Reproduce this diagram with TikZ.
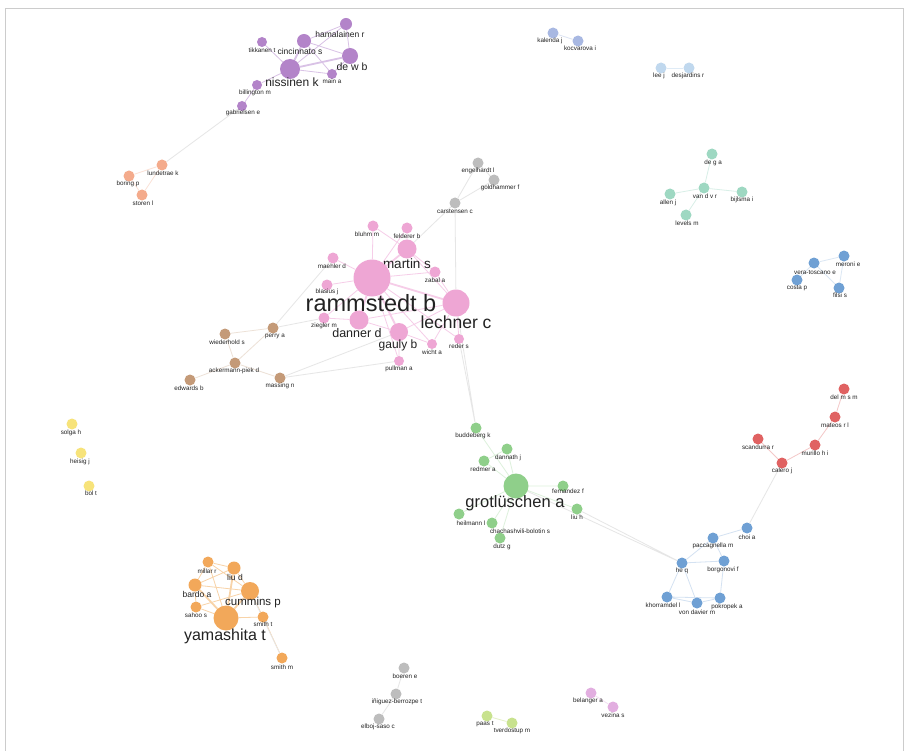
\documentclass[tikz,border=0pt]{standalone}
\usepackage{fontspec}
\setmainfont{Liberation Sans}
\usetikzlibrary{backgrounds}
\definecolor{cpur}{HTML}{B384C9}
\definecolor{epur}{HTML}{D9C2E6}
\definecolor{csal}{HTML}{F4AB8C}
\definecolor{cpink}{HTML}{EEA6D4}
\definecolor{epink}{HTML}{F6CDE8}
\definecolor{cbrown}{HTML}{C49A78}
\definecolor{cgray}{HTML}{BDBDBD}
\definecolor{cgreen}{HTML}{8FCF8A}
\definecolor{cblue}{HTML}{6FA0D4}
\definecolor{cred}{HTML}{E06262}
\definecolor{corange}{HTML}{F2A85A}
\definecolor{eorange}{HTML}{F8D3A8}
\definecolor{cteal}{HTML}{9ED8C2}
\definecolor{ckal}{HTML}{A8B8E2}
\definecolor{clee}{HTML}{C0D8EE}
\definecolor{cyel}{HTML}{F7E37A}
\definecolor{clg}{HTML}{C8E28E}
\definecolor{cbel}{HTML}{E2AEE0}
\definecolor{txt}{HTML}{222222}
\definecolor{faint}{HTML}{E6E6E6}
\tikzset{
  nd/.style={circle, inner sep=0pt, draw=none},
  ls/.style={inner sep=0pt, text=txt, font=\fontsize{6.3}{7}\selectfont},
  lm/.style={inner sep=0pt, text=txt, font=\fontsize{8.5}{9}\selectfont},
  lb/.style={inner sep=0pt, text=txt, font=\fontsize{#1}{#1}\selectfont},
  ed/.style={draw=#1, line width=0.8pt},
  edt/.style={draw=#1, line width=1.8pt},
}
\newcommand\gn[7]{\node[nd, fill=#1, minimum size=#4pt] (#2) at (#3) {}; \node[#6] (#2-l) at (#5) {#7};}
\begin{document}
\begin{tikzpicture}[x=1pt,y=-1pt]
\useasboundingbox (0,0) rectangle (909,751);
% purple
\gn{cpur}{hamalainen}{346,24}{12}{340,34}{lm}{hamalainen r}
\gn{cpur}{cincinnato}{304,41}{14}{300,51}{lm}{cincinnato s}
\gn{cpur}{tikkanen}{262,42}{10}{262,50}{ls}{tikkanen t}
\gn{cpur}{dewb}{350,56}{16}{352,67}{lb=10.5}{de w b}
\gn{cpur}{nissinen}{290,69}{20}{292,82}{lb=12}{nissinen k}
\gn{cpur}{maina}{332,74}{10}{332,81}{ls}{main a}
\gn{cpur}{billington}{257,85}{10}{255,93}{ls}{billington m}
\gn{cpur}{gabrielsen}{242,106}{10}{243,113}{ls}{gabrielsen e}
% salmon
\gn{csal}{lundetrae}{162,165}{11}{163,173}{ls}{lundetrae k}
\gn{csal}{boring}{129,176}{11}{128,184}{ls}{boring p}
\gn{csal}{storen}{142,195}{11}{143,203}{ls}{storen l}
% gray top
\gn{cgray}{engelhardt}{478,163}{11}{478,171}{ls}{engelhardt l}
\gn{cgray}{goldhammer}{494,180}{11}{500,188}{ls}{goldhammer f}
\gn{cgray}{carstensen}{455,203}{11}{455,211}{ls}{carstensen c}
% pink
\gn{cpink}{bluhm}{373,226}{11}{367,234}{ls}{bluhm m}
\gn{cpink}{felderer}{407,228}{11}{407,236}{ls}{felderer b}
\gn{cpink}{martin}{407,249}{19}{407,264}{lb=13.5}{martin s}
\gn{cpink}{maehler}{333,258}{11}{332,266}{ls}{maehler d}
\gn{cpink}{zabal}{435,272}{11}{435,280}{ls}{zabal a}
\gn{cpink}{rammstedt}{372,278}{37}{371,303}{lb=23.5}{rammstedt b}
\gn{cpink}{blasius}{327,285}{11}{327,291.5}{ls}{blasius j}
\gn{cpink}{lechner}{456,303}{27}{456,322}{lb=17.5}{lechner c}
\gn{cpink}{ziegler}{324,318}{11}{324,326}{ls}{ziegler m}
\gn{cpink}{danner}{359,320}{19}{357,333}{lb=12.5}{danner d}
\gn{cpink}{gauly}{399,332}{18}{398,345}{lb=12}{gauly b}
\gn{cpink}{wicht}{432,344}{10}{432,352}{ls}{wicht a}
\gn{cpink}{reder}{459,339}{10}{459,346}{ls}{reder s}
\gn{cpink}{pullman}{399,361}{10}{399,369}{ls}{pullman a}
% brown
\gn{cbrown}{perry}{273,328}{11}{275,336}{ls}{perry a}
\gn{cbrown}{wiederhold}{225,334}{11}{227,342}{ls}{wiederhold s}
\gn{cbrown}{ackermann}{235,363}{11}{234,371}{ls}{ackermann-piek d}
\gn{cbrown}{massing}{280,378}{11}{280,386}{ls}{massing n}
\gn{cbrown}{edwards}{190,380}{11}{189,388}{ls}{edwards b}
% top right
\gn{ckal}{kalenda}{553,33}{11}{550,41}{ls}{kalenda j}
\gn{ckal}{kocvarova}{578,41}{11}{580,48}{ls}{kocvarova i}
\gn{clee}{lee}{661,68}{11}{659,76}{ls}{lee j}
\gn{clee}{desjardins}{689,68}{11}{688,76}{ls}{desjardins r}
% teal
\gn{cteal}{dega}{712,154}{11}{713,163}{ls}{de g a}
\gn{cteal}{vandvr}{704,188}{11}{705,196}{ls}{van d v r}
\gn{cteal}{allen}{670,194}{11}{668,203}{ls}{allen j}
\gn{cteal}{bijlsma}{742,192}{11}{742,200}{ls}{bijlsma i}
\gn{cteal}{levels}{686,215}{11}{687,223}{ls}{levels m}
% blue right
\gn{cblue}{meroni}{844,256}{11}{848,264}{ls}{meroni e}
\gn{cblue}{vera}{814,263}{11}{815,272}{ls}{vera-toscano e}
\gn{cblue}{costa}{797,280}{11}{797,288}{ls}{costa p}
\gn{cblue}{filsi}{839,288}{11}{840,295}{ls}{filsi s}
% red
\gn{cred}{delmsm}{844,389}{11}{844,397}{ls}{del m s m}
\gn{cred}{mateos}{835,417}{11}{835,425}{ls}{mateos r l}
\gn{cred}{murillo}{815,445}{11}{815,453}{ls}{murillo h i}
\gn{cred}{scandurra}{758,439}{11}{758,447}{ls}{scandurra r}
\gn{cred}{calero}{782,463}{11}{782,471}{ls}{calero j}
% yellow
\gn{cyel}{solga}{72,424}{11}{71,433}{ls}{solga h}
\gn{cyel}{heisig}{81,453}{11}{80,462}{ls}{heisig j}
\gn{cyel}{bol}{89,486}{11}{91,493}{ls}{bol t}
% green
\gn{cgreen}{buddeberg}{476,428}{11}{473,436}{ls}{buddeberg k}
\gn{cgreen}{dannath}{507,449}{11}{508,458}{ls}{dannath j}
\gn{cgreen}{redmer}{484,461}{11}{483,469}{ls}{redmer a}
\gn{cgreen}{grot}{516,486}{25}{515,503.5}{lb=16.5}{grotlüschen a}
\gn{cgreen}{fernandez}{563,486}{11}{568,491.5}{ls}{fernandez f}
\gn{cgreen}{liuh}{577,509}{11}{577,517}{ls}{liu h}
\gn{cgreen}{heilmann}{459,514}{11}{471,523}{ls}{heilmann l}
\gn{cgreen}{chach}{492,523}{11}{520,531}{ls}{chachashvili-bolotin s}
\gn{cgreen}{dutz}{500,538}{11}{502,547}{ls}{dutz g}
% blue bottom
\gn{cblue}{choi}{747,528}{11}{747,537}{ls}{choi a}
\gn{cblue}{pacc}{713,538}{11}{713,546}{ls}{paccagnella m}
\gn{cblue}{heq}{682,563}{11}{682,571}{ls}{he q}
\gn{cblue}{borg}{724,561}{11}{723,570}{ls}{borgonovi f}
\gn{cblue}{khor}{667,597}{11}{663,605}{ls}{khorramdel l}
\gn{cblue}{vond}{697,603}{11}{697,612}{ls}{von davier m}
\gn{cblue}{pokr}{720,598}{11}{727,607}{ls}{pokropek a}
% orange
\gn{corange}{millar}{208,562}{11}{207,571}{ls}{millar r}
\gn{corange}{liud}{234,568}{13}{235,577}{lm}{liu d}
\gn{corange}{bardo}{195,585}{13}{197,594}{lm}{bardo a}
\gn{corange}{cummins}{250,591}{18}{253,603}{lb=11.5}{cummins p}
\gn{corange}{sahoo}{196,607}{11}{196,615}{ls}{sahoo s}
\gn{corange}{yama}{226,618}{25}{225,636}{lb=16}{yamashita t}
\gn{corange}{smitht}{263,617}{11}{263,624}{ls}{smith t}
\gn{corange}{smithm}{282,658}{11}{282,667}{ls}{smith m}
% bottom
\gn{cgray}{boeren}{404,668}{11}{405,676}{ls}{boeren e}
\gn{cgray}{iniguez}{396,694}{11}{397,702}{ls}{iñiguez-berrozpe t}
\gn{cgray}{elboj}{379,719}{11}{378,727}{ls}{elboj-saso c}
\gn{clg}{paas}{487,716}{11}{485,724}{ls}{paas t}
\gn{clg}{tverdostup}{512,723}{11}{512,731}{ls}{tverdostup m}
\gn{cbel}{belanger}{591,693}{11}{588,701}{ls}{belanger a}
\gn{cbel}{vezina}{613,707}{11}{613,715}{ls}{vezina s}
\begin{pgfonlayer}{background}
\fill[white] (0,0) rectangle (909,751);
\draw[gray!40, line width=0.8pt] (5,751) -- (5,8) -- (903,8) -- (903,751);
% purple edges
\draw[edt=epur] (nissinen) -- (cincinnato);
\draw[edt=epur] (nissinen) -- (dewb);
\draw[ed=epur] (nissinen) -- (hamalainen) (nissinen) -- (tikkanen) (nissinen) -- (maina)
  (nissinen) -- (billington) (cincinnato) -- (hamalainen) (cincinnato) -- (dewb)
  (hamalainen) -- (dewb) (dewb) -- (maina) (cincinnato) -- (maina) (billington) -- (gabrielsen);
\draw[ed=faint] (gabrielsen) -- (lundetrae);
\draw[ed=csal!35] (lundetrae) -- (boring) (lundetrae) -- (storen) (boring) -- (storen);
% gray top
\draw[ed=faint] (engelhardt) -- (goldhammer) (engelhardt) -- (carstensen) (goldhammer) -- (carstensen)
  (carstensen) -- (martin) (carstensen) -- (lechner);
% pink
\draw[edt=epink] (rammstedt) -- (lechner) (rammstedt) -- (martin) (rammstedt) -- (danner) (rammstedt) -- (gauly);
\draw[ed=epink] (rammstedt) -- (bluhm) (rammstedt) -- (felderer) (rammstedt) -- (maehler)
  (rammstedt) -- (zabal) (rammstedt) -- (blasius) (rammstedt) -- (ziegler) (rammstedt) -- (wicht)
  (rammstedt) -- (reder) (rammstedt) -- (pullman)
  (martin) -- (bluhm) (martin) -- (felderer) (martin) -- (zabal) (martin) -- (lechner)
  (lechner) -- (zabal) (lechner) -- (gauly) (lechner) -- (danner) (lechner) -- (reder) (lechner) -- (wicht)
  (gauly) -- (danner) (gauly) -- (wicht) (gauly) -- (pullman) (danner) -- (ziegler);
\draw[ed=faint] (perry) -- (maehler) (perry) -- (ziegler) (massing) -- (gauly) (massing) -- (pullman);
% brown
\draw[ed=cbrown!30] (wiederhold) -- (perry) (perry) -- (ackermann) (wiederhold) -- (ackermann)
  (ackermann) -- (edwards) (ackermann) -- (massing);
% pink to green
\draw[ed=faint] (lechner) -- (buddeberg) (reder) -- (buddeberg);
% green
\draw[ed=cgreen!30] (grot) -- (buddeberg) (grot) -- (dannath) (grot) -- (redmer) (grot) -- (fernandez)
  (grot) -- (liuh) (grot) -- (heilmann) (grot) -- (chach) (grot) -- (dutz) (redmer) -- (dannath);
\draw[ed=faint] (grot) -- (heq) (liuh) -- (heq);
% blue bottom
\draw[ed=cblue!30] (choi) -- (pacc) (pacc) -- (borg) (pacc) -- (heq) (heq) -- (borg) (heq) -- (khor)
  (heq) -- (vond) (borg) -- (pokr) (khor) -- (vond) (vond) -- (pokr) (khor) -- (pokr);
\draw[ed=faint] (choi) -- (calero);
% red
\draw[ed=cred!35] (delmsm) -- (mateos) (mateos) -- (murillo) (murillo) -- (calero) (scandurra) -- (calero);
% teal
\draw[ed=cteal!40] (vandvr) -- (dega) (vandvr) -- (allen) (vandvr) -- (bijlsma) (vandvr) -- (levels);
% top right
\draw[ed=ckal!40] (kalenda) -- (kocvarova);
\draw[ed=clee!50] (lee) -- (desjardins);
% blue right
\draw[ed=cblue!25] (meroni) -- (vera) (meroni) -- (filsi) (vera) -- (costa) (vera) -- (filsi);
% orange
\draw[edt=eorange] (yama) -- (cummins) (yama) -- (bardo) (yama) -- (liud);
\draw[ed=eorange] (yama) -- (millar) (yama) -- (sahoo) (yama) -- (smitht)
  (cummins) -- (millar) (cummins) -- (liud) (cummins) -- (bardo) (cummins) -- (smitht) (cummins) -- (sahoo)
  (millar) -- (liud) (millar) -- (bardo) (bardo) -- (liud) (bardo) -- (sahoo) (smitht) -- (smithm);
\draw[ed=faint] (cummins) -- (smithm);
% bottom
\draw[ed=faint] (boeren) -- (iniguez) (iniguez) -- (elboj);
\draw[ed=clg!50] (paas) -- (tverdostup);
\draw[ed=cbel!40] (belanger) -- (vezina);
\end{pgfonlayer}
\end{tikzpicture}
\end{document}
